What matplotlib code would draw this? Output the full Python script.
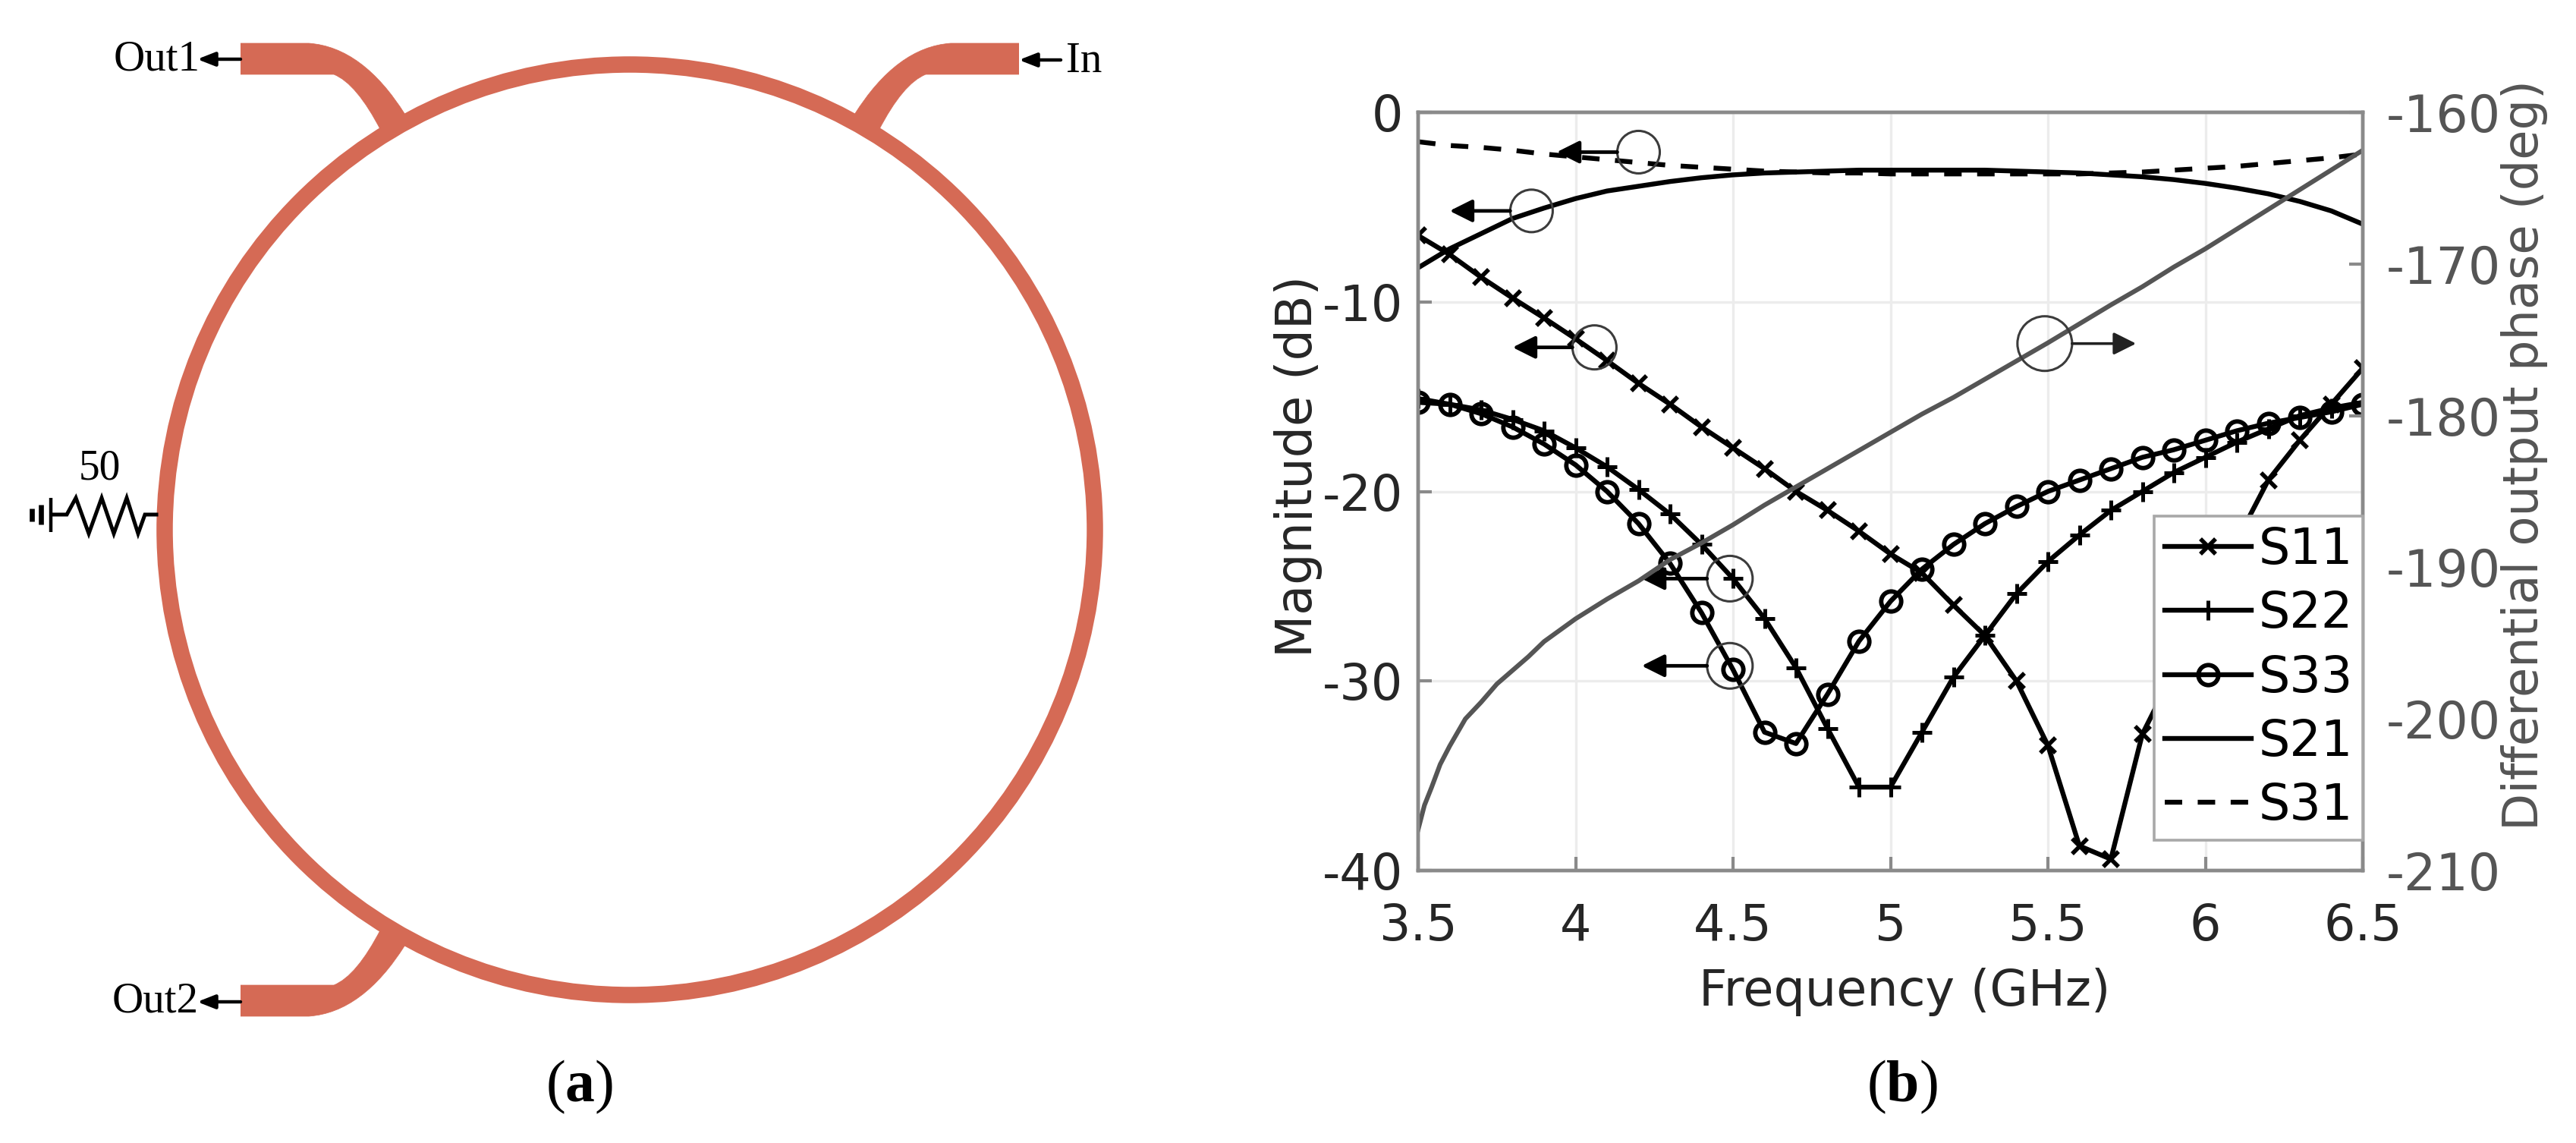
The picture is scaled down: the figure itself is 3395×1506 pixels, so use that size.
import matplotlib
matplotlib.use("Agg")
import matplotlib.pyplot as plt
from matplotlib.patches import Ellipse, PathPatch
from matplotlib.path import Path

plt.rcParams["font.family"] = "DejaVu Sans"
plt.rcParams["axes.unicode_minus"] = False
plt.rcParams["mathtext.fontset"] = "custom"
plt.rcParams["mathtext.bf"] = "Liberation Serif:bold"

# -----------------------------
# Data
# -----------------------------
freq = [3.5, 3.6, 3.7, 3.8, 3.9, 4.0, 4.1, 4.2, 4.3, 4.4, 4.5, 4.6, 4.7, 4.8, 4.9, 5.0,
        5.1, 5.2, 5.3, 5.4, 5.5, 5.6, 5.7, 5.8, 5.9, 6.0, 6.1, 6.2, 6.3, 6.4, 6.5]

s11 = [-6.5, -7.5, -8.7, -9.8, -10.85, -11.95, -13.1, -14.3, -15.4, -16.6, -17.7, -18.8,
       -20.0, -21.0, -22.1, -23.3, -24.3, -26.0, -27.6, -30.0, -33.4, -38.7, -39.4, -32.8,
       -29.5, -26.2, -22.6, -19.4, -17.3, -15.4, -13.5]
s22 = [-15.1, -15.4, -15.7, -16.2, -16.8, -17.7, -18.7, -19.9, -21.2, -22.8, -24.6, -26.7,
       -29.3, -32.5, -35.6, -35.6, -32.7, -29.8, -27.6, -25.4, -23.7, -22.3, -21.0, -20.0,
       -19.0, -18.2, -17.4, -16.7, -16.0, -15.6, -15.3]
s33 = [-15.3, -15.4, -15.9, -16.6, -17.5, -18.6, -20.0, -21.7, -23.8, -26.4, -29.4, -32.7,
       -33.3, -30.7, -27.9, -25.8, -24.1, -22.8, -21.7, -20.8, -20.0, -19.4, -18.8, -18.2,
       -17.8, -17.3, -16.8, -16.4, -16.1, -15.8, -15.4]
s21 = [-8.2, -7.2, -6.4, -5.6, -5.05, -4.55, -4.15, -3.9, -3.65, -3.45, -3.3, -3.2, -3.15,
       -3.1, -3.05, -3.05, -3.05, -3.05, -3.05, -3.1, -3.15, -3.2, -3.3, -3.4, -3.55, -3.75,
       -4.0, -4.3, -4.7, -5.2, -5.9]
s31 = [-1.55, -1.75, -1.85, -2.0, -2.2, -2.35, -2.5, -2.65, -2.8, -2.9, -3.0, -3.1, -3.15,
       -3.2, -3.2, -3.25, -3.25, -3.25, -3.25, -3.25, -3.25, -3.25, -3.2, -3.15, -3.05,
       -2.95, -2.85, -2.7, -2.55, -2.4, -2.2]

phase_freq = [3.5, 3.52, 3.543, 3.57, 3.6, 3.65, 3.7, 3.75, 3.8, 3.85, 3.9, 4.0, 4.1, 4.2,
              4.3, 4.4, 4.5, 4.6, 4.7, 4.8, 4.9, 5.0, 5.1, 5.2, 5.3, 5.4, 5.5, 5.6, 5.7,
              5.8, 5.9, 6.0, 6.1, 6.2, 6.3, 6.4, 6.5]
phase = [-207.3, -205.7, -204.5, -203.0, -201.8, -200.0, -198.9, -197.7, -196.8, -195.9,
         -194.9, -193.4, -192.1, -190.9, -189.5, -188.4, -187.2, -185.9, -184.7, -183.5,
         -182.3, -181.1, -179.9, -178.8, -177.6, -176.4, -175.2, -173.95, -172.7, -171.5,
         -170.2, -169.0, -167.7, -166.4, -165.1, -163.8, -162.5]

x_ticks = [3.5, 4, 4.5, 5, 5.5, 6, 6.5]
x_tick_labels = ["3.5", "4", "4.5", "5", "5.5", "6", "6.5"]
mag_ticks = [-40, -30, -20, -10, 0]
phase_ticks = [-210, -200, -190, -180, -170, -160]

# circle centres (GHz, dB), pixel radius, arrow tip in GHz
left_callouts = [(4.2, -2.1, 28, 3.94), (3.86, -5.2, 28, 3.6), (4.06, -12.4, 29, 3.8),
                 (4.49, -24.6, 30, 4.21), (4.49, -29.2, 30, 4.21)]
right_callout = (5.49, -12.2, 36, 5.78)

# schematic outline, in pixels of the left panel
ring_center = (830, 698)
ring_radius = 613
feed_outer = [(317, 57), (407, 57), (478, 62), (534, 151)]
feed_inner = [(502, 172), (470, 110), (440, 98), (407, 98), (317, 98)]
resistor_x = [206, 191, 182, 167, 150, 134, 117, 100, 88, 69]
resistor_y = [678, 678, 703, 656, 703, 656, 703, 656, 678, 678]
ground_bars = [(67, 656, 701, 4), (54, 665, 691, 6), (42, 670, 687, 6)]

RING = "#D56A55"
GRAY = "#8A8A8A"
DARK = "#555555"

W, H = 3395, 1506
fig = plt.figure(figsize=(W / 100, H / 100), dpi=100, facecolor="white")

# -----------------------------
# Left panel: the schematic
# -----------------------------
sch = fig.add_axes([0, 0, 1, 1])
sch.set_xlim(0, W)
sch.set_ylim(H, 0)
sch.axis("off")

sch.add_patch(Ellipse(ring_center, 2 * ring_radius, 2 * ring_radius, fill=False,
                      edgecolor=RING, linewidth=15.5))


def draw_feed(flip_x, flip_y):
    # one tapered feed, mirrored around the ring centre
    pts = feed_outer + feed_inner
    pts = [(2 * ring_center[0] - x if flip_x else x,
            2 * ring_center[1] - y if flip_y else y) for x, y in pts]
    codes = [Path.MOVETO, Path.LINETO, Path.CURVE3, Path.CURVE3, Path.LINETO,
             Path.CURVE3, Path.CURVE3, Path.LINETO, Path.LINETO]
    sch.add_patch(PathPatch(Path(pts, codes), facecolor=RING, edgecolor=RING, linewidth=0.5))


draw_feed(False, False)
draw_feed(True, False)
draw_feed(False, True)

serif = ["Liberation Serif", "DejaVu Serif"]
arrowstyle = dict(arrowstyle="-|>,head_length=1.4,head_width=0.55", color="black", lw=3.2,
                  shrinkA=0, shrinkB=0)
sch.annotate("", xy=(260, 78), xytext=(317, 78), arrowprops=arrowstyle)
sch.annotate("", xy=(1343, 79), xytext=(1398, 79), arrowprops=arrowstyle)
sch.annotate("", xy=(260, 1320), xytext=(317, 1320), arrowprops=arrowstyle)

sch.text(150, 78, "Out1", family=serif, fontsize=41, va="center", ha="left")
sch.text(148, 1320, "Out2", family=serif, fontsize=41, va="center", ha="left")
sch.text(1405, 81, "In", family=serif, fontsize=41, va="center", ha="left")
sch.text(131, 617, "50", family=serif, fontsize=40, va="center", ha="center")

sch.plot(resistor_x, resistor_y, color="black", lw=3.6, solid_joinstyle="miter")
for bx, y0, y1, bw in ground_bars:
    sch.plot([bx, bx], [y0, y1], color="black", lw=bw * 0.8, solid_capstyle="butt")

sch.text(764, 1432, "($\\mathbf{a}$)", family=serif, fontsize=56, ha="center", va="center")
sch.text(2507, 1432, "($\\mathbf{b}$)", family=serif, fontsize=56, ha="center", va="center")

# -----------------------------
# Right panel: S parameters and phase
# -----------------------------
ax_l, ax_r, ax_t, ax_b = 1869, 3114, 148, 1147
ax = fig.add_axes([ax_l / W, 1 - ax_b / H, (ax_r - ax_l) / W, (ax_b - ax_t) / H])
ax.patch.set_alpha(0)

line_kw = dict(color="black", lw=4.6)
h11, = ax.plot(freq, s11, marker="x", ms=15, mew=4, label="S11", **line_kw)
h22, = ax.plot(freq, s22, marker="+", ms=19, mew=3.6, label="S22", **line_kw)
h33, = ax.plot(freq, s33, marker="o", ms=19, mew=4.2, mfc="none", label="S33", **line_kw)
h21, = ax.plot(freq, s21, label="S21", **line_kw)
h31, = ax.plot(freq, s31, ls=(0, (3.6, 3.2)), label="S31", **line_kw)

ax.set_xlim(3.5, 6.5)
ax.set_ylim(-40, 0)
ax.set_xticks(x_ticks)
ax.set_xticklabels(x_tick_labels)
ax.set_yticks(mag_ticks)
ax.grid(True, color="#ECECEC", lw=2.4)
ax.set_axisbelow(True)
ax.tick_params(direction="in", length=13, width=3, color=GRAY, labelsize=47,
               labelcolor="#262626", pad=14)
ax.tick_params(axis="x", pad=30)
ax.set_xlabel("Frequency (GHz)", fontsize=47, color="#262626")
ax.set_ylabel("Magnitude (dB)", fontsize=47, color="#262626")
ax.xaxis.set_label_coords(0.515, -0.128)
ax.yaxis.set_label_coords(-0.101, 0.533)

ax2 = ax.twinx()
ax2.plot(phase_freq, phase, color=DARK, lw=4.4)
ax2.set_ylim(-210, -160)
ax2.set_yticks(phase_ticks)
ax2.tick_params(direction="in", length=13, width=3, color=GRAY, labelsize=48,
                labelcolor=DARK, pad=22)
ax2.set_ylabel("Differential output phase (deg)", fontsize=46, color=DARK)
ax2.yaxis.set_label_coords(1.146, 0.548)

for a in (ax, ax2):
    for sp in a.spines.values():
        sp.set_color(GRAY)
        sp.set_linewidth(3.2)

# callouts, sized in pixels and placed in data units
px_x = 3.0 / (ax_r - ax_l)
px_y = 40.0 / (ax_b - ax_t)
call_arrow = dict(arrowstyle="-|>,head_length=1.8,head_width=0.9", color="black", lw=3.4,
                  shrinkA=0, shrinkB=0)
for cx, cy, r, tip in left_callouts:
    ax.add_patch(Ellipse((cx, cy), 2 * r * px_x, 2 * r * px_y, fill=False,
                         edgecolor="#3C3C3C", lw=2.2, zorder=5))
    ax.annotate("", xy=(tip, cy), xytext=(cx - r * px_x, cy), arrowprops=call_arrow, zorder=5)

cx, cy, r, tip = right_callout
ax2.add_patch(Ellipse((cx, -160 + cy * 50 / 40), 2 * r * px_x, 2 * r * 50.0 / (ax_b - ax_t),
                      fill=False, edgecolor="#3C3C3C", lw=2.2, zorder=5))
ax2.annotate("", xy=(tip, -160 + cy * 50 / 40), xytext=(cx + r * px_x, -160 + cy * 50 / 40),
             arrowprops=dict(call_arrow, color="#222222", lw=2.6), zorder=5)

leg = ax2.legend(handles=[h11, h22, h33, h21, h31], loc="lower right",
                 bbox_to_anchor=(1.0, 0.04), fontsize=47, frameon=True, fancybox=False,
                 framealpha=1, edgecolor="#A8A8A8", borderaxespad=0, borderpad=0.2,
                 handlelength=1.75, handletextpad=0.15, labelspacing=0.31)
leg.get_frame().set_linewidth(2.6)
leg.set_zorder(10)

fig.savefig("out.png", dpi=100, facecolor="white")
